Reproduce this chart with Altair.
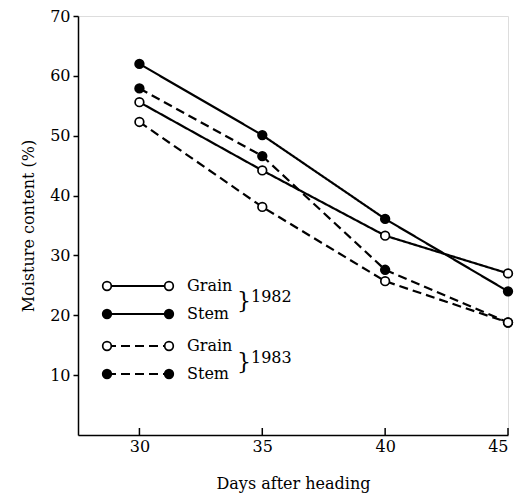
import altair as alt
import pandas as pd

days = [30, 35, 40, 45]
grain_1982 = [55.6, 44.2, 33.3, 27.0]
stem_1982 = [62.0, 50.1, 36.1, 24.0]
grain_1983 = [52.3, 38.1, 25.7, 18.8]
stem_1983 = [57.9, 46.6, 27.6, 18.8]

series = [
    ("Stem", 1982, stem_1982),
    ("Stem", 1983, stem_1983),
    ("Grain", 1982, grain_1982),
    ("Grain", 1983, grain_1983),
]

rows = []
order = 0
for part, year, vals in series:
    for d, v in zip(days, vals):
        rows.append({"part": part, "year": str(year), "series": f"{part} {year}",
                     "day": d, "value": v, "ord": order})
    order += 1
df = pd.DataFrame(rows)

x_ticks = [30, 35, 40, 45]
y_ticks = [10, 20, 30, 40, 50, 60, 70]

legend_parts = ["Grain", "Stem", "Grain", "Stem"]
legend_years = ["1982", "1982", "1983", "1983"]
legend_df = pd.DataFrame({"row": [0, 1, 2, 3], "part": legend_parts, "year": legend_years})
year_labels = pd.DataFrame({"grp": [0, 1], "year": ["1982", "1983"]})

FONT = "DejaVu Serif"
FS = 16
TOP = 16
W, H = 430, 435 - TOP
PAD_TOP = TOP - 8
PAD_BOTTOM = 485 - PAD_TOP - H

xscale = alt.Scale(domain=[27.5, 45], nice=False, zero=False)
yscale = alt.Scale(domain=[0, 70], nice=False)
dash_scale = alt.Scale(domain=["1982", "1983"], range=[[1, 0], [9, 5]])
fill_scale = alt.Scale(domain=["Grain", "Stem"], range=["white", "black"])

base = alt.Chart(df)

lines = base.mark_line(color="black", strokeWidth=2.2).encode(
    x=alt.X("day:Q", scale=xscale,
            axis=alt.Axis(values=x_ticks, ticks=False, grid=False, title="Days after heading",
                          labelFont=FONT, labelFontSize=FS, labelColor="black", labelPadding=3,
                          titleFont=FONT, titleFontSize=FS, titleFontWeight="normal",
                          titleColor="black", titlePadding=21, domainColor="black",
                          domainWidth=1.5)),
    y=alt.Y("value:Q", scale=yscale,
            axis=alt.Axis(values=y_ticks, grid=False, tickSize=5, tickColor="black",
                          tickWidth=1.5, title="Moisture content (%)",
                          labelFont=FONT, labelFontSize=FS, labelColor="black", labelPadding=3,
                          titleFont=FONT, titleFontSize=FS, titleFontWeight="normal",
                          titleColor="black", titlePadding=13, domainColor="black",
                          domainWidth=1.5)),
    detail="series:N",
    strokeDash=alt.StrokeDash("year:N", scale=dash_scale, legend=None),
)

points = base.mark_point(shape="circle", filled=True, size=75, stroke="black",
                         strokeWidth=1.7, opacity=1).encode(
    x=alt.X("day:Q", scale=xscale),
    y=alt.Y("value:Q", scale=yscale),
    fill=alt.Fill("part:N", scale=fill_scale, legend=None),
    order="ord:Q",
)

xt = alt.Chart(pd.DataFrame({"t": x_ticks})).mark_rule(color="black", strokeWidth=1.5).encode(
    x=alt.X("t:Q", scale=xscale),
    y=alt.value(H),
    y2=alt.value(H - 7),
)

layers = [lines, points, xt]

row_y = [286 - TOP, 314 - TOP, 346 - TOP, 374 - TOP]
for i in range(4):
    sub = alt.Chart(legend_df).transform_filter(alt.datum.row == i)
    dash = [1, 0] if legend_years[i] == "1982" else [9, 5]
    fill = "white" if legend_parts[i] == "Grain" else "black"
    layers.append(sub.mark_rule(color="black", strokeWidth=2.2, strokeDash=dash).encode(
        x=alt.value(29), x2=alt.value(91), y=alt.value(row_y[i])))
    for px in (29, 91):
        layers.append(sub.mark_point(shape="circle", filled=True, size=75, stroke="black",
                                     strokeWidth=1.7, fill=fill, opacity=1).encode(
            x=alt.value(px), y=alt.value(row_y[i])))
    layers.append(sub.mark_text(font=FONT, fontSize=FS, align="left", baseline="middle",
                                color="black").encode(
        x=alt.value(109), y=alt.value(row_y[i]), text="part:N"))

brace_y = [299 - TOP, 360 - TOP]
for g in range(2):
    sub = alt.Chart(year_labels).transform_filter(alt.datum.grp == g)
    layers.append(sub.mark_text(font=FONT, fontSize=22, align="left", baseline="middle",
                                color="black", text="}", fontWeight=200).encode(
        x=alt.value(159), y=alt.value(brace_y[g] + 2)))
    layers.append(sub.mark_text(font=FONT, fontSize=FS, align="left", baseline="middle",
                                color="black").encode(
        x=alt.value(173), y=alt.value(brace_y[g] - 2), text="year:N"))

chart = alt.layer(*layers).properties(
    width=W, height=H,
    autosize=alt.AutoSizeParams(type="none"),
    padding={"left": 70, "top": PAD_TOP, "right": 12, "bottom": PAD_BOTTOM},
).configure_view(strokeWidth=0).configure(background="white")

chart.save("out.html", embed_options={"renderer": "svg", "actions": False})
